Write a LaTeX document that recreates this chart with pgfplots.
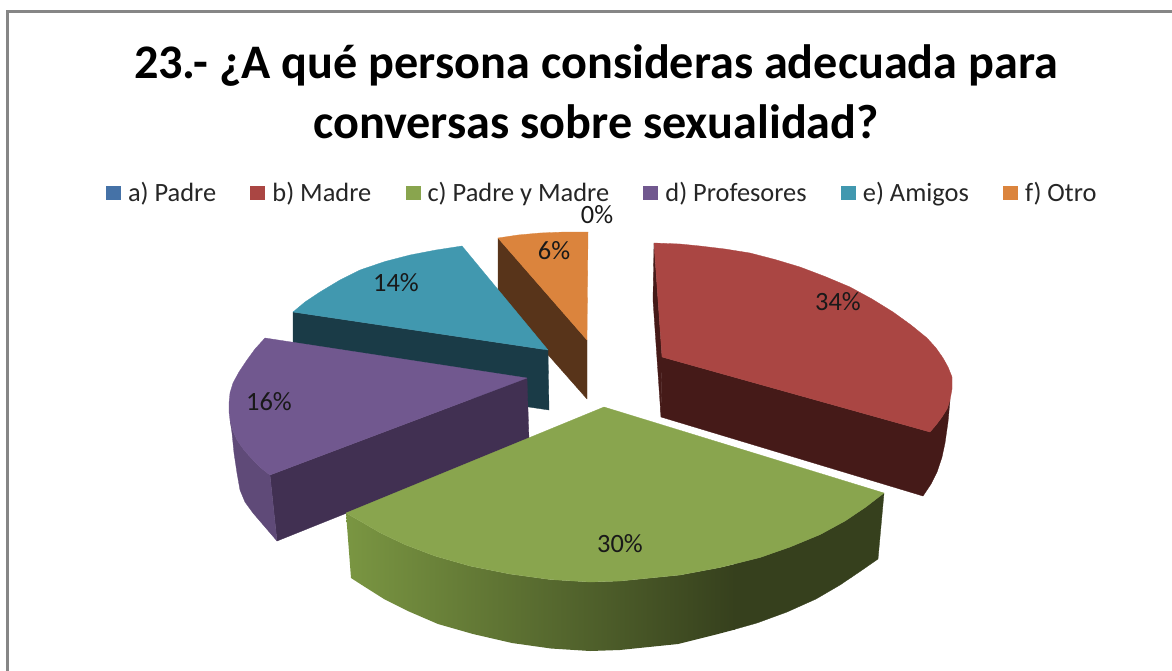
\documentclass[border=0pt]{standalone}
\usepackage{pgfplots}
\pgfplotsset{compat=1.18}
\usepackage{fontspec}
\setmainfont{Carlito}
\definecolor{cA}{HTML}{4572A7}
\definecolor{cB}{HTML}{AA4643}
\definecolor{cC}{HTML}{89A54E}
\definecolor{cD}{HTML}{71588F}
\definecolor{cE}{HTML}{4198AF}
\definecolor{cF}{HTML}{DB843D}
\definecolor{sB}{HTML}{451A18}
\definecolor{sCl}{HTML}{7A9642}
\definecolor{sCr}{HTML}{36401D}
\definecolor{sD}{HTML}{413052}
\definecolor{sDo}{HTML}{5F4A78}
\definecolor{sE}{HTML}{1A3B47}
\definecolor{sF}{HTML}{58341A}
\definecolor{frameC}{HTML}{868686}
\begin{document}
\begin{tikzpicture}
\path[use as bounding box] (0,0) rectangle (1172pt,670pt);
\begin{axis}[
  at={(0,0)}, anchor=south west,
  width=1172pt, height=670pt, scale only axis,
  xmin=0, xmax=1172, ymin=0, ymax=670, y dir=reverse,
  axis lines=none, clip=true,
  legend columns=6,
  legend cell align=left,
  legend style={draw=none, fill=none, at={(axis cs:106,193)}, anchor=west,
    font=\fontsize{26.4}{30}\selectfont, text=black!85,
    inner sep=0pt, outer sep=0pt,
    /tikz/every even column/.append style={column sep=32.2pt},
    /tikz/every odd column/.append style={column sep=5pt}},
  legend image code/.code={\fill[#1,draw=none] (0pt,-7pt) rectangle (15pt,7pt);},
  every axis plot/.append style={line width=0.3pt, line join=round},
]
\addlegendimage{fill=cA}\addlegendentry{a) Padre}
\addlegendimage{fill=cB}\addlegendentry{b) Madre}
\addlegendimage{fill=cC}\addlegendentry{c) Padre y Madre}
\addlegendimage{fill=cD}\addlegendentry{d) Profesores}
\addlegendimage{fill=cE}\addlegendentry{e) Amigos}
\addlegendimage{fill=cF}\addlegendentry{f) Otro}

% frame
\addplot[forget plot, draw=frameC, line width=2.5pt, line join=miter] coordinates {(7.5,672) (7.5,11.3) (1174,11.3)};

% f) Otro
\addplot[forget plot, draw=sF, fill=sF] coordinates {(498,238) (587,340) (587,399) (498,298)} -- cycle;
\addplot[forget plot, draw=cF, fill=cF] coordinates {(498,238) (518,235) (540,233) (565,232) (588,232) (587,340)} -- cycle;
% e) Amigos
\addplot[forget plot, draw=sE, fill=sE] coordinates {(293,312) (548,350) (549,410) (293,372)} -- cycle;
\addplot[forget plot, draw=cE, fill=cE] coordinates {(293,312) (305,302) (320,292) (340,280) (360,270) (385,261.5) (410,255) (436,250) (462,246) (548,350)} -- cycle;
% d) Profesores
\addplot[forget plot, draw=sD, fill=sD] coordinates {(270,475) (527,378) (529,440) (277,541)} -- cycle;
\addplot[forget plot, draw=sDo, fill=sDo] coordinates {(230,420) (233,431) (237,440) (244,450) (253,460) (261,468) (270,475) (277,541) (265,527) (253,513) (245,502) (240,490) (237,473) (234,453) (232,433)} -- cycle;
\addplot[forget plot, draw=cD, fill=cD] coordinates {(265,338) (255,349) (247,360) (239,372) (233,383) (230,393) (229,403) (229,412) (230,420) (233,431) (237,440) (244,450) (253,460) (261,468) (270,475) (527,378)} -- cycle;
% b) Madre
\addplot[forget plot, draw=sB, fill=sB] coordinates {(654,243) (662,357) (661,417) (653,300)} -- cycle;
\addplot[forget plot, draw=sB, fill=sB] coordinates {(662,357) (930,432) (936,425) (942,417) (947,409) (950,400) (948,422) (945,443) (942,457) (937,472) (931,484) (923,496) (661,417)} -- cycle;
\addplot[forget plot, draw=cB, fill=cB] coordinates {(654,243) (680,244) (700,246) (725,249) (750,253) (775,259.5) (800,267) (825,276.5) (850,287) (872,299) (893,312) (911,325) (927,338) (936,348) (943,358) (948,367) (952,377) (952,389) (950,400) (947,409) (942,417) (936,425) (930,432) (662,357)} -- cycle;
% c) Padre y Madre
\addplot[forget plot, draw=none, left color=sCl, right color=sCr] coordinates {(346,513) (360,521) (380,532.7) (405,544.6) (435,556) (470,566) (510,574) (550,579.5) (590,582) (620,581) (640,579) (680,575) (720,567.5) (735,564) (735,629.5) (718,634) (678,644) (639,648) (620,650) (590,651) (551,648.5) (512,643) (473,634) (438,624) (409,611.5) (384,599) (365,587) (351,578)} -- cycle;
\addplot[forget plot, draw=sCr, fill=sCr] coordinates {(734,564) (760,557.5) (790,547) (820,534.6) (845,521) (865,507.6) (884,493) (878,559) (860,571.5) (840,585) (816,599) (787,612) (757,623) (734,629.5)} -- cycle;
\addplot[forget plot, draw=cC, fill=cC] coordinates {(604,407) (346,513) (360,521) (380,532.7) (405,544.6) (435,556) (470,566) (510,574) (550,579.5) (590,582) (620,581) (640,579) (680,575) (720,567.5) (760,557.5) (790,547) (820,534.6) (845,521) (865,507.6) (884,493)} -- cycle;

% title and data labels
\node[align=center, font=\fontsize{48.2}{60}\selectfont\bfseries, text=black] at (axis cs:596,92) {23.- ¿A qué persona consideras adecuada para\\conversas sobre sexualidad?};
\node[font=\fontsize{26.4}{30}\selectfont, text=black!90] at (axis cs:838,302) {34\%};
\node[font=\fontsize{26.4}{30}\selectfont, text=black!90] at (axis cs:620,544) {30\%};
\node[font=\fontsize{26.4}{30}\selectfont, text=black!90] at (axis cs:269,402) {16\%};
\node[font=\fontsize{26.4}{30}\selectfont, text=black!90] at (axis cs:396,283) {14\%};
\node[font=\fontsize{26.4}{30}\selectfont, text=black!90] at (axis cs:554,251) {6\%};
\node[font=\fontsize{26.4}{30}\selectfont, text=black!90] at (axis cs:597,215) {0\%};
\end{axis}
\end{tikzpicture}
\end{document}
